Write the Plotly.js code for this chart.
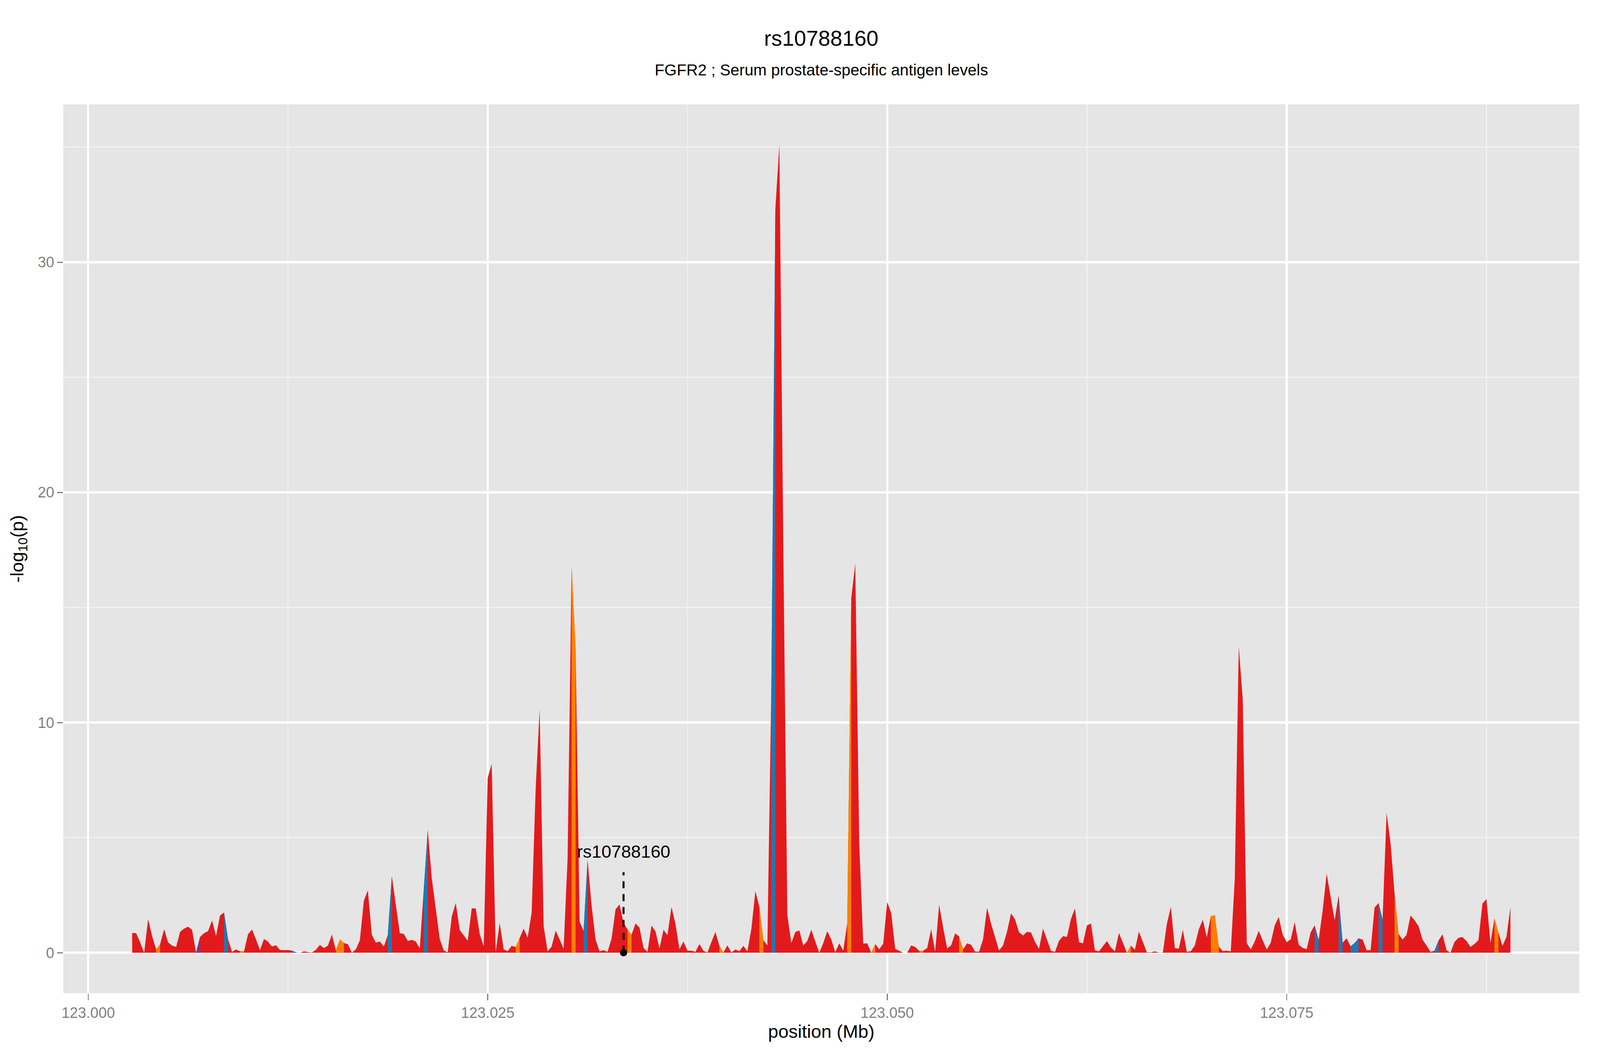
<!DOCTYPE html>
<html>
<head>
<meta charset="utf-8">
<script src="https://cdn.plot.ly/plotly-3.0.1.min.js"></script>
<style>
  html, body { margin: 0; padding: 0; background: #ffffff; overflow: hidden; }
  #plot { position: absolute; left: 0; top: 0; }
</style>
</head>
<body>
<div id="plot"></div>
<script>
// SNP positions (Mb) along chr10 near FGFR2
var positions = [
	123.00275,123.00300,123.00325,123.00350,123.00375,123.00400,123.00425,123.00450,123.00475,123.00500,
	123.00525,123.00550,123.00575,123.00600,123.00625,123.00650,123.00675,123.00700,123.00725,123.00750,
	123.00775,123.00800,123.00825,123.00850,123.00875,123.00900,123.00925,123.00950,123.00975,123.01000,
	123.01025,123.01050,123.01075,123.01100,123.01125,123.01150,123.01175,123.01200,123.01225,123.01250,
	123.01275,123.01300,123.01325,123.01350,123.01375,123.01400,123.01425,123.01450,123.01475,123.01500,
	123.01525,123.01550,123.01575,123.01600,123.01625,123.01650,123.01675,123.01700,123.01725,123.01750,
	123.01775,123.01800,123.01825,123.01850,123.01875,123.01900,123.01925,123.01950,123.01975,123.02000,
	123.02025,123.02050,123.02075,123.02100,123.02125,123.02150,123.02175,123.02200,123.02225,123.02250,
	123.02275,123.02300,123.02325,123.02350,123.02375,123.02400,123.02425,123.02450,123.02475,123.02500,
	123.02525,123.02550,123.02575,123.02600,123.02625,123.02650,123.02675,123.02700,123.02725,123.02750,
	123.02775,123.02800,123.02825,123.02850,123.02875,123.02900,123.02925,123.02950,123.02975,123.03000,
	123.03025,123.03050,123.03075,123.03100,123.03125,123.03150,123.03175,123.03200,123.03225,123.03250,
	123.03275,123.03300,123.03325,123.03350,123.03375,123.03400,123.03425,123.03450,123.03475,123.03500,
	123.03525,123.03550,123.03575,123.03600,123.03625,123.03650,123.03675,123.03700,123.03725,123.03750,
	123.03775,123.03800,123.03825,123.03850,123.03875,123.03900,123.03925,123.03950,123.03975,123.04000,
	123.04025,123.04050,123.04075,123.04100,123.04125,123.04150,123.04175,123.04200,123.04225,123.04250,
	123.04275,123.04300,123.04325,123.04350,123.04375,123.04400,123.04425,123.04450,123.04475,123.04500,
	123.04525,123.04550,123.04575,123.04600,123.04625,123.04650,123.04675,123.04700,123.04725,123.04750,
	123.04775,123.04800,123.04825,123.04850,123.04875,123.04900,123.04925,123.04950,123.04975,123.05000,
	123.05025,123.05050,123.05075,123.05100,123.05125,123.05150,123.05175,123.05200,123.05225,123.05250,
	123.05275,123.05300,123.05325,123.05350,123.05375,123.05400,123.05425,123.05450,123.05475,123.05500,
	123.05525,123.05550,123.05575,123.05600,123.05625,123.05650,123.05675,123.05700,123.05725,123.05750,
	123.05775,123.05800,123.05825,123.05850,123.05875,123.05900,123.05925,123.05950,123.05975,123.06000,
	123.06025,123.06050,123.06075,123.06100,123.06125,123.06150,123.06175,123.06200,123.06225,123.06250,
	123.06275,123.06300,123.06325,123.06350,123.06375,123.06400,123.06425,123.06450,123.06475,123.06500,
	123.06525,123.06550,123.06575,123.06600,123.06625,123.06650,123.06675,123.06700,123.06725,123.06750,
	123.06775,123.06800,123.06825,123.06850,123.06875,123.06900,123.06925,123.06950,123.06975,123.07000,
	123.07025,123.07050,123.07075,123.07100,123.07125,123.07150,123.07175,123.07200,123.07225,123.07250,
	123.07275,123.07300,123.07325,123.07350,123.07375,123.07400,123.07425,123.07450,123.07475,123.07500,
	123.07525,123.07550,123.07575,123.07600,123.07625,123.07650,123.07675,123.07700,123.07725,123.07750,
	123.07775,123.07800,123.07825,123.07850,123.07875,123.07900,123.07925,123.07950,123.07975,123.08000,
	123.08025,123.08050,123.08075,123.08100,123.08125,123.08150,123.08175,123.08200,123.08225,123.08250,
	123.08275,123.08300,123.08325,123.08350,123.08375,123.08400,123.08425,123.08450,123.08475,123.08500,
	123.08525,123.08550,123.08575,123.08600,123.08625,123.08650,123.08675,123.08700,123.08725,123.08750,
	123.08775,123.08800,123.08825,123.08850,123.08875,123.08900
];

// -log10(p) for each position
var logP = [
	0.86,0.85,0.45,0.00,1.46,0.72,0.15,0.37,1.02,0.45,
	0.31,0.25,0.91,1.05,1.13,1.00,0.00,0.69,0.85,0.94,
	1.40,0.73,1.62,1.75,0.59,0.04,0.14,0.07,0.06,0.80,
	1.01,0.58,0.11,0.60,0.48,0.27,0.33,0.12,0.11,0.12,
	0.09,0.02,0.00,0.06,0.03,0.01,0.13,0.34,0.20,0.31,
	0.79,0.10,0.58,0.42,0.37,0.00,0.15,0.54,2.26,2.71,
	0.78,0.44,0.49,0.27,0.78,3.33,2.09,0.85,0.82,0.51,
	0.56,0.49,0.19,2.77,5.34,3.23,1.89,0.59,0.10,0.02,
	1.58,2.16,0.99,0.76,0.52,1.93,1.93,0.81,0.28,7.60,
	8.20,0.04,1.29,0.15,0.07,0.30,0.25,0.64,1.05,0.65,
	1.75,7.10,10.60,1.15,0.06,0.27,0.96,0.58,0.17,4.10,
	16.80,13.20,1.35,0.95,4.04,2.06,0.57,0.06,0.11,0.04,
	0.61,1.88,2.10,1.30,1.01,0.78,1.27,1.09,0.21,0.04,
	1.18,0.93,0.18,1.00,0.76,1.99,1.25,0.15,0.49,0.09,
	0.09,0.04,0.38,0.08,0.01,0.47,0.90,0.30,0.01,0.32,
	0.01,0.14,0.07,0.30,0.06,1.04,2.68,1.99,0.55,0.32,
	11.50,32.30,35.10,17.50,1.64,0.42,0.90,0.97,0.31,0.51,
	1.00,0.49,0.00,0.42,0.94,0.58,0.02,0.41,0.09,1.29,
	15.40,16.90,4.75,0.40,0.41,0.00,0.38,0.15,0.39,2.21,
	1.73,0.17,0.09,0.00,0.00,0.32,0.25,0.09,0.09,0.20,
	1.02,0.04,2.09,1.09,0.19,0.32,0.84,0.71,0.15,0.41,
	0.35,0.05,0.05,0.59,1.95,1.26,0.68,0.10,0.32,0.92,
	1.71,1.45,0.89,0.75,0.91,0.88,0.47,0.17,1.05,0.57,
	0.08,0.04,0.52,0.72,0.69,1.47,1.93,0.46,0.41,1.19,
	1.27,0.10,0.06,0.28,0.51,0.23,0.06,0.86,0.44,0.00,
	0.31,0.13,0.92,0.47,0.02,0.02,0.06,0.01,0.01,1.25,
	1.99,0.20,0.18,0.99,0.04,0.07,0.32,1.02,1.43,0.67,
	1.58,1.64,0.27,0.07,0.09,0.06,3.20,13.30,11.00,0.42,
	0.14,0.49,0.95,0.53,0.14,0.43,1.19,1.55,0.78,0.46,
	0.58,1.33,0.35,0.21,0.16,0.89,1.19,0.55,1.83,3.44,
	2.40,1.41,2.49,0.44,0.63,0.28,0.42,0.63,0.57,0.11,
	0.11,1.96,2.16,1.44,6.08,4.76,2.57,0.82,0.57,0.78,
	1.62,1.41,1.16,0.57,0.31,0.04,0.09,0.53,0.80,0.11,
	0.00,0.47,0.65,0.68,0.51,0.25,0.38,0.55,2.14,2.33,
	0.42,1.49,0.88,0.30,0.68,1.97
];

// SNPs drawn in another colour (the band runs to the next SNP)
var bluePos = [123.00850,123.01275,123.01875,123.02100,123.03100,123.04275,123.07675,123.07825,123.07900,123.07925,123.08075,123.08425];
var orangePos = [123.00425,123.00950,123.01550,123.01575,123.02675,123.03025,123.03375,123.03950,123.04200,123.04750,123.04900,123.05200,123.05450,123.06500,123.07025,123.07050,123.08175,123.08800];
var purplePos = [123.00675];

var snpLabel = 'rs10788160';
var snpPos = 123.03350;

var xTickVals = [123.000, 123.025, 123.050, 123.075];
var xTickText = ['123.000', '123.025', '123.050', '123.075'];
var yTickVals = [0, 10, 20, 30];


var fontFamily = 'Liberation Sans, Arial, Helvetica, sans-serif';

// sizes below are worked out for a 4800 x 2700 page, then fitted to the real window
var W = window.innerWidth || 4800;
var H = window.innerHeight || 2700;
var sx = W / 4800;
var sy = H / 2700;
var sf = Math.sqrt(sx * sy);

function bandTrace(posList, colour, name) {
	var x = [];
	var y = [];
	posList.forEach(function (p) {
		var i = positions.findIndex(function (q) { return Math.abs(q - p) < 1e-7; });
		if (i < 0 || i + 1 >= positions.length) return;
		x.push(positions[i], positions[i], positions[i + 1], positions[i + 1], null);
		y.push(0, logP[i], logP[i + 1], 0, null);
	});
	return {
		x: x,
		y: y,
		name: name,
		mode: 'lines',
		fill: 'toself',
		fillcolor: colour,
		line: { width: 0, color: colour },
		hoverinfo: 'skip',
		showlegend: false
	};
}

var area = {
	x: positions,
	y: logP,
	name: '-log10(p)',
	mode: 'lines',
	fill: 'tozeroy',
	fillcolor: '#E31A1C',
	line: { width: 0, color: '#E31A1C' },
	showlegend: false
};

var purple = bandTrace(purplePos, '#6A3D9A', 'purple');
var blue = bandTrace(bluePos, '#1F78B4', 'blue');
var orange = bandTrace(orangePos, '#FF7F00', 'orange');

var snpLine = {
	x: [snpPos, snpPos],
	y: [0, 3.5],
	mode: 'lines',
	line: {
		color: '#000000',
		width: 6 * sx,
		dash: (18 * sy).toFixed(1) + 'px,' + (15 * sy).toFixed(1) + 'px'
	},
	showlegend: false
};

var snpDot = {
	x: [snpPos],
	y: [0],
	mode: 'markers',
	marker: { color: '#000000', size: 20 * sf },
	showlegend: false
};

var layout = {
	width: W,
	height: H,
	paper_bgcolor: '#FFFFFF',
	plot_bgcolor: '#E5E5E5',
	hovermode: false,
	showlegend: false,
	font: { family: fontFamily, color: '#000000' },
	margin: { l: 190 * sx, r: 62 * sx, t: 267 * sy, b: 158 * sy, pad: 0 },
	title: {
		text: 'rs10788160',
		font: { family: fontFamily, size: 60 * sf, color: '#000000' },
		x: 0.5,
		xref: 'paper',
		xanchor: 'center',
		y: 1 - 98 / 2700,
		yref: 'container',
		yanchor: 'middle'
	},
	xaxis: {
		range: [122.99844, 123.09331],
		tickmode: 'array',
		tickvals: xTickVals,
		ticktext: xTickText,
		ticks: 'outside',
		ticklen: 17 * sy,
		tickwidth: 3 * sx,
		tickcolor: '#7F7F7F',
		tickfont: { family: fontFamily, size: 41 * sf, color: '#7F7F7F' },
		showgrid: true,
		gridcolor: '#FFFFFF',
		gridwidth: 6 * sx,
		zeroline: false,
		showline: false,
		minor: {
			tickvals: [123.0125, 123.0375, 123.0625, 123.0875],
			showgrid: true,
			gridcolor: '#F2F2F2',
			gridwidth: 3 * sx,
			ticks: ''
		},
		title: {
			text: 'position (Mb)',
			font: { family: fontFamily, size: 51 * sf, color: '#000000' },
			standoff: 4 * sy
		}
	},
	yaxis: {
		range: [-1.76, 36.86],
		tickmode: 'array',
		tickvals: yTickVals,
		ticks: 'outside',
		ticklen: 17 * sx,
		tickwidth: 3 * sy,
		tickcolor: '#7F7F7F',
		tickfont: { family: fontFamily, size: 41 * sf, color: '#7F7F7F' },
		showgrid: true,
		gridcolor: '#FFFFFF',
		gridwidth: 6 * sy,
		zeroline: false,
		showline: false,
		minor: {
			tickvals: [5, 15, 25, 35],
			showgrid: true,
			gridcolor: '#F2F2F2',
			gridwidth: 3 * sy,
			ticks: ''
		},
		title: {
			text: '-log<sub>10</sub>(p)',
			font: { family: fontFamily, size: 51 * sf, color: '#000000' },
			standoff: 24 * sx
		}
	},
	annotations: [
		{
			text: 'FGFR2 ; Serum prostate-specific antigen levels',
			xref: 'paper',
			yref: 'paper',
			x: 0.5,
			y: 1,
			xanchor: 'center',
			yanchor: 'middle',
			yshift: 88 * sy,
			showarrow: false,
			font: { family: fontFamily, size: 44 * sf, color: '#000000' }
		},
		{
			text: snpLabel,
			x: snpPos,
			y: 4.4,
			xanchor: 'center',
			yanchor: 'middle',
			showarrow: false,
			font: { family: fontFamily, size: 49 * sf, color: '#000000' }
		}
	]
};

var data = [area, purple, blue, orange, snpLine, snpDot];

Plotly.newPlot('plot', data, layout, { displayModeBar: false, staticPlot: true });
</script>
</body>
</html>
